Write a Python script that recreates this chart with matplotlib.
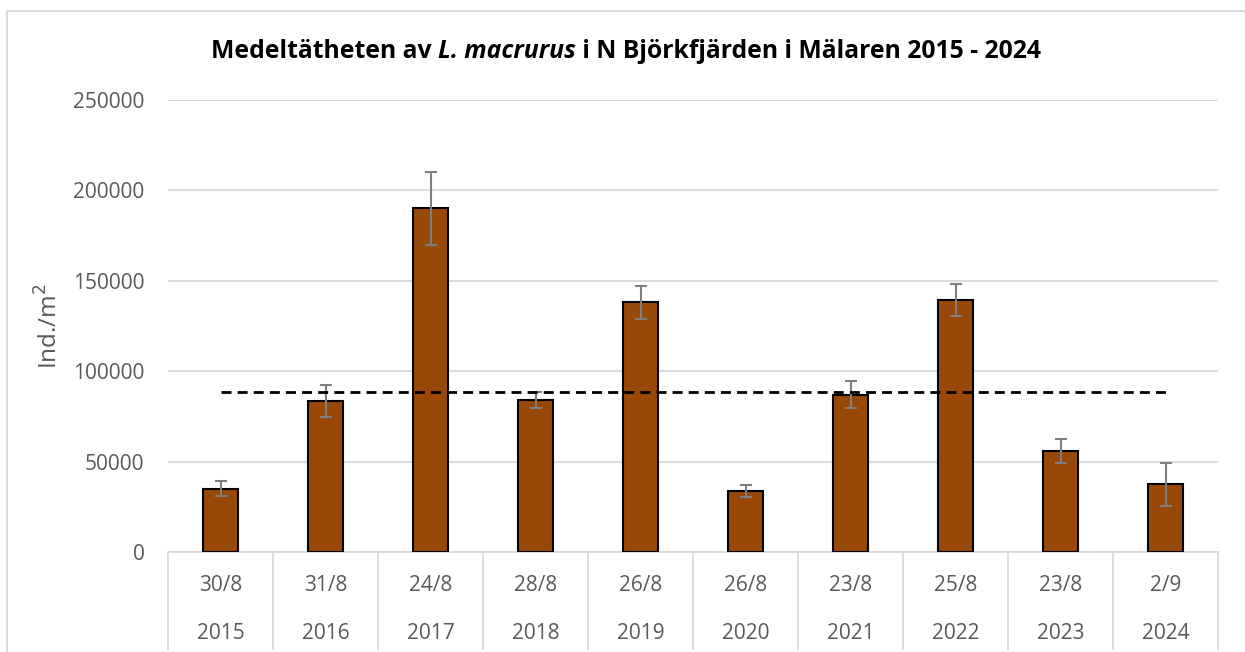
import numpy as np
import matplotlib
matplotlib.use('Agg')
import matplotlib.pyplot as plt
from matplotlib.patches import Rectangle
import matplotlib.transforms as mtransforms

# Data
years = ['2015', '2016', '2017', '2018', '2019', '2020', '2021', '2022', '2023', '2024']
dates = ['30/8', '31/8', '24/8', '28/8', '26/8', '26/8', '23/8', '25/8', '23/8', '2/9']
density = [35000, 83500, 190000, 84000, 138000, 33700, 87000, 139400, 56000, 37400]
errors = [4000, 9000, 20000, 4500, 9000, 3500, 7500, 9000, 6500, 11800]

FONT = 'Open Sans'
GREY_TXT = '#595959'
GRID = '#d9d9d9'
BAR = '#984807'

plt.rcParams['font.family'] = [FONT, 'DejaVu Sans']

fig = plt.figure(figsize=(12.45, 6.52), dpi=100)
ax = fig.add_axes([168 / 1245, 100 / 652, (1218 - 168) / 1245, 452 / 652])

x = np.arange(len(years))
ax.bar(x, density, width=0.33, color=BAR, edgecolor='black', linewidth=1.5, zorder=3)
ax.errorbar(x, density, yerr=errors, fmt='none', ecolor='#7f7f7f', elinewidth=1.5,
            capsize=4.5, capthick=1.5, zorder=4)

# medelvärde
mean_val = np.mean(density)
ax.plot([x[0], x[-1]], [mean_val, mean_val], color='black', linestyle=(0, (3.6, 2.2)),
        linewidth=2.0, zorder=5)

ax.set_xlim(-0.5, len(years) - 0.5)
ax.set_ylim(0, 250000)
ax.set_yticks(np.arange(0, 250001, 50000))
ax.tick_params(axis='y', length=0, labelsize=15, labelcolor=GREY_TXT, pad=17)
ax.set_xticks([])
ax.grid(axis='y', color=GRID, linewidth=1.3, zorder=0)
ax.set_axisbelow(True)
for s in ['top', 'right', 'left']:
    ax.spines[s].set_visible(False)
ax.spines['bottom'].set_color(GRID)
ax.spines['bottom'].set_linewidth(1.3)

ax.set_ylabel('Ind./m$^2$', fontsize=17.5, color=GREY_TXT, labelpad=7)

# tvånivåers kategoriaxel
trans = mtransforms.blended_transform_factory(ax.transData, ax.transAxes)
for b in np.arange(-0.5, len(years), 1.0):
    ax.plot([b, b], [0, -0.215], transform=trans, color=GRID, linewidth=1.3, clip_on=False)
for i in range(len(years)):
    ax.text(x[i], -0.075, dates[i], transform=trans, ha='center', va='center',
            fontsize=15, color=GREY_TXT)
    ax.text(x[i], -0.18, years[i], transform=trans, ha='center', va='center',
            fontsize=15, color=GREY_TXT)

# ram runt figuren
fig.patches.append(Rectangle((7 / 1245, -0.1), 1.2, (652 - 11) / 652 + 0.1,
                             transform=fig.transFigure, fill=False,
                             edgecolor=GRID, linewidth=1.3))

# titel med kursivt artnamn
parts = [('Medeltätheten av ', 'normal'), ('L. macrurus', 'italic'),
         (' i N Björkfjärden i Mälaren 2015 - 2024', 'normal')]
fig.canvas.draw()
renderer = fig.canvas.get_renderer()
texts = []
for s, style in parts:
    t = fig.text(0, 1 - 52 / 652, s, fontsize=17.8, fontweight='bold', style=style,
                 ha='left', va='center', color='black')
    texts.append(t)
widths = [t.get_window_extent(renderer).width for t in texts]
total = sum(widths)
start = 626 - total / 2
for t, w in zip(texts, widths):
    t.set_x(start / 1245)
    start += w

fig.savefig('out.png', dpi=100)
